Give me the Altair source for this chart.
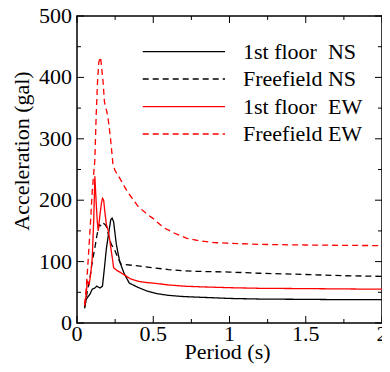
import altair as alt
import pandas as pd

# ---- data ----
ns1_x = [0.05, 0.06, 0.07, 0.085, 0.1, 0.117, 0.13, 0.15, 0.167, 0.18, 0.193, 0.21, 0.221, 0.23,
         0.24, 0.258, 0.28, 0.31, 0.343, 0.4, 0.46, 0.52, 0.6, 0.7, 0.8, 1.0, 1.2, 1.5, 1.75, 2.0]
ns1_y = [24, 38, 42, 47, 55, 57, 60, 57, 60, 90, 122, 150, 168, 171,
         165, 128, 100, 80, 65, 58, 52, 48, 45, 43, 42, 40, 39, 38.5, 38, 38]

nsf_x = [0.05, 0.06, 0.07, 0.085, 0.1, 0.117, 0.13, 0.145, 0.16, 0.171, 0.185, 0.193, 0.21, 0.225,
         0.245, 0.27, 0.288, 0.32, 0.4, 0.5, 0.6, 0.7, 0.8, 1.0, 1.2, 1.5, 1.75, 2.0]
nsf_y = [26, 40, 55, 74, 100, 122, 142, 160, 158, 163, 160, 157, 140, 128,
         120, 105, 96, 95, 93, 90, 87, 85, 84, 83, 81, 79, 77, 76]

ew1_x = [0.05, 0.06, 0.067, 0.075, 0.08, 0.09, 0.1, 0.11, 0.117, 0.125, 0.133, 0.139, 0.15, 0.16,
         0.167, 0.175, 0.183, 0.193, 0.205, 0.215, 0.225, 0.235, 0.24, 0.26, 0.3, 0.35, 0.4, 0.45,
         0.5, 0.6, 0.7, 0.8, 1.0, 1.2, 1.5, 2.0]
ew1_y = [28, 45, 68, 65, 63, 80, 106, 170, 239, 200, 165, 150, 175, 195,
         203, 200, 180, 160, 150, 135, 117, 100, 90, 86, 80, 72, 68, 66,
         65, 62, 60, 59, 57.5, 56.5, 56, 55]

ewf_x = [0.05, 0.06, 0.07, 0.08, 0.09, 0.1, 0.11, 0.117, 0.126, 0.135, 0.143, 0.154, 0.16, 0.171,
         0.18, 0.189, 0.195, 0.204, 0.22, 0.236, 0.25, 0.28, 0.33, 0.4, 0.46, 0.5, 0.57, 0.65,
         0.72, 0.8, 0.9, 0.98, 1.2, 1.5, 1.75, 2.0]
ewf_y = [30, 55, 90, 130, 170, 215, 245, 265, 340, 395, 425, 433, 420, 393,
         360, 350, 345, 333, 300, 258, 248, 236, 214, 190, 177, 170, 155, 145,
         138, 134, 131, 130, 128, 127, 126.5, 126]

series_names = ["1st floor NS", "Freefield NS", "1st floor EW", "Freefield EW"]
legend_labels = ["1st floor\u00a0 NS", "Freefield NS", "1st floor\u00a0 EW", "Freefield EW"]
series_colors = ["#000000", "#000000", "#ff0000", "#ff0000"]
series_dash = [[1, 0], [6, 4], [1, 0], [6, 4]]

x_major = [0, 0.5, 1, 1.5, 2]
x_labels = ["0", "0.5", "1", "1.5", "2"]
x_minor = [0.25, 0.75, 1.25, 1.75]
y_major = [0, 100, 200, 300, 400, 500]
y_labels = ["0", "100", "200", "300", "400", "500"]
y_minor = [50, 150, 250, 350, 450]
x_title = "Period (s)"
y_title = "Acceleration (gal)"

rows = []
for name, xs, ys in zip(series_names, [ns1_x, nsf_x, ew1_x, ewf_x], [ns1_y, nsf_y, ew1_y, ewf_y]):
    for a, b in zip(xs, ys):
        rows.append({"series": name, "period": a, "acc": b})
df = pd.DataFrame(rows)

W, H = 305, 307
FONT = "Liberation Serif"
FS = 22

xscale = alt.Scale(domain=[0, 2], nice=False, zero=False)
yscale = alt.Scale(domain=[0, 500], nice=False)

lines = alt.Chart(df).mark_line(strokeWidth=1.3, clip=True).encode(
    x=alt.X("period:Q", scale=xscale, axis=None),
    y=alt.Y("acc:Q", scale=yscale, axis=None),
    color=alt.Color("series:N", scale=alt.Scale(domain=series_names, range=series_colors), legend=None),
    strokeDash=alt.StrokeDash("series:N", scale=alt.Scale(domain=series_names, range=series_dash),
                              legend=None),
)

layers = [lines]

# inward ticks on all four sides
def yticks(vals, length):
    d = pd.DataFrame({"v": vals})
    left = alt.Chart(d).mark_rule(color="black", strokeWidth=1).encode(
        y=alt.Y("v:Q", scale=yscale, axis=None), x=alt.value(0), x2=alt.value(length))
    right = alt.Chart(d).mark_rule(color="black", strokeWidth=1).encode(
        y=alt.Y("v:Q", scale=yscale, axis=None), x=alt.value(W), x2=alt.value(W - length))
    return [left, right]

def xticks(vals, length):
    d = pd.DataFrame({"v": vals})
    bottom = alt.Chart(d).mark_rule(color="black", strokeWidth=1).encode(
        x=alt.X("v:Q", scale=xscale, axis=None), y=alt.value(H), y2=alt.value(H - length))
    top = alt.Chart(d).mark_rule(color="black", strokeWidth=1).encode(
        x=alt.X("v:Q", scale=xscale, axis=None), y=alt.value(0), y2=alt.value(length))
    return [bottom, top]

layers += yticks(y_major, 7) + yticks(y_minor, 4) + xticks(x_major, 7) + xticks(x_minor, 4)

# tick labels placed through the scales
xl = pd.DataFrame({"v": x_major, "lab": x_labels})
layers.append(alt.Chart(xl).mark_text(font=FONT, fontSize=FS, baseline="alphabetic",
                                      align="center", color="black").encode(
    x=alt.X("v:Q", scale=xscale, axis=None), y=alt.value(H + 17.7), text="lab:N"))
yl = pd.DataFrame({"v": y_major, "lab": y_labels})
layers.append(alt.Chart(yl).mark_text(font=FONT, fontSize=FS, baseline="middle",
                                      align="right", color="black").encode(
    y=alt.Y("v:Q", scale=yscale, axis=None), x=alt.value(-5), text="lab:N"))

# axis titles
layers.append(alt.Chart(pd.DataFrame({"k": [0]})).mark_text(
    text=x_title, font=FONT, fontSize=FS, baseline="alphabetic", align="center", color="black"
).encode(x=alt.value(W / 2 - 2), y=alt.value(H + 36)))
layers.append(alt.Chart(pd.DataFrame({"k": [0]})).mark_text(
    text=y_title, font=FONT, fontSize=FS, baseline="middle", align="center", angle=270,
    color="black").encode(x=alt.value(-55), y=alt.value(135)))

# manual legend
row_y = [35.7, 63, 90.7, 118]
for lab, col, dash, ry in zip(legend_labels, series_colors, series_dash, row_y):
    layers.append(alt.Chart(pd.DataFrame({"k": [0]})).mark_rule(
        color=col, strokeWidth=1.3, strokeDash=dash).encode(
        x=alt.value(65.7), x2=alt.value(148), y=alt.value(ry)))
    layers.append(alt.Chart(pd.DataFrame({"k": [0]})).mark_text(
        text=lab, font=FONT, fontSize=FS, align="left", baseline="middle", color="black").encode(
        x=alt.value(166), y=alt.value(ry)))

chart = alt.layer(*layers).properties(
    width=W, height=H,
    background="white",
    autosize=alt.AutoSizeParams(type="none"),
    padding={"left": 69, "top": 8, "right": 0, "bottom": 41},
).configure_view(stroke="black", strokeWidth=1.5)

chart.save("out.html", embed_options={"renderer": "svg", "actions": False})
